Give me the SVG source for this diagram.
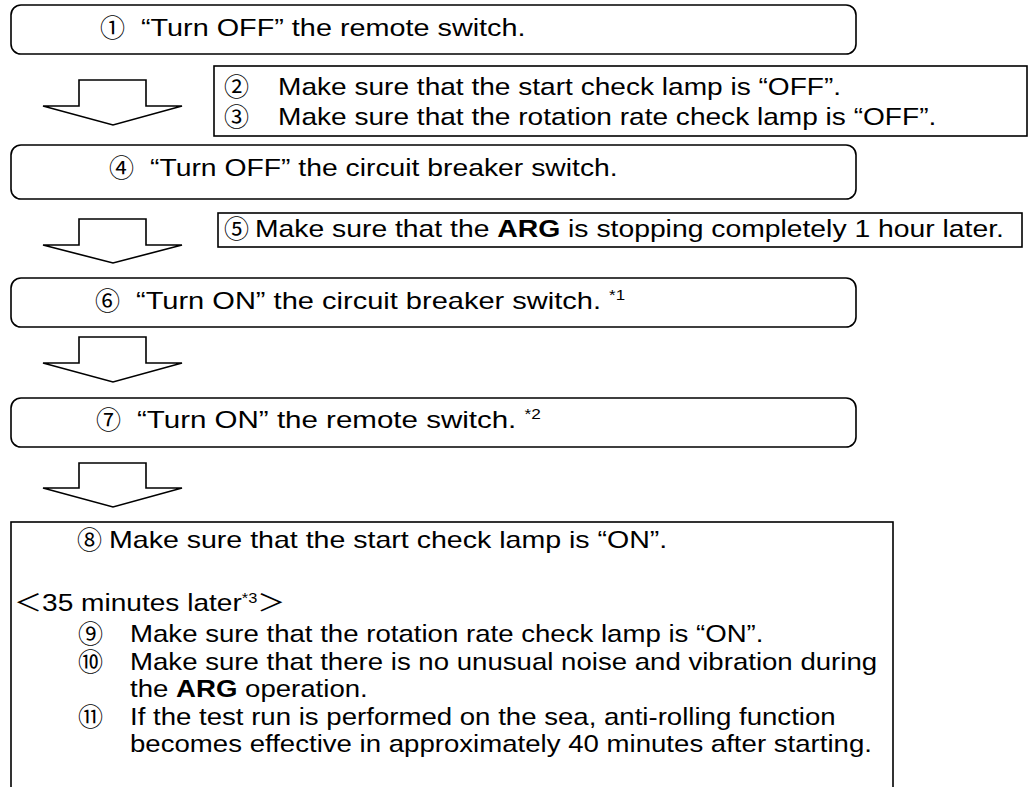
<svg xmlns="http://www.w3.org/2000/svg" width="1035" height="787" viewBox="0 0 1035 787">
<style>
.box{fill:#fff;stroke:#000;stroke-width:1.6}
.arrow{fill:#fff;stroke:#000;stroke-width:1.6;stroke-linejoin:miter}
.t{font-family:"Liberation Sans",Arial,"Noto Sans CJK JP",sans-serif;font-size:24px;fill:#000}
.b{font-weight:bold}
.n{font-family:"Noto Sans CJK JP","DejaVu Sans",sans-serif;font-size:25px;fill:#000}
.sup{font-size:14px}
.wj{font-family:"Noto Sans CJK JP",sans-serif}
</style>
<rect width="1035" height="787" fill="#fff"/>
<g id="connectors">
<polygon class="arrow" points="79,80 146,80 146,106 182,106 113,125 43,106 79,106"/>
<polygon class="arrow" points="79,219 146,219 146,245 182,245 113,263 43,245 79,245"/>
<polygon class="arrow" points="79,337 146,337 146,363 182,363 113,382 43,363 79,363"/>
<polygon class="arrow" points="79,463 146,463 146,488 182,488 113,507 43,488 79,488"/>
</g>
<g id="step1">
<rect class="box" x="11" y="5" width="845" height="49" rx="10"/>
<text class="n" x="100" y="36.5">①</text>
<text class="t" transform="translate(141 35.5) scale(1.2 1)">“Turn OFF” the remote switch.</text>
</g>
<g id="step2-3">
<rect class="box" x="214" y="66" width="813" height="70"/>
<text class="n" x="224" y="96">②</text>
<text class="t" transform="translate(278 95) scale(1.17 1)">Make sure that the start check lamp is “OFF”.</text>
<text class="n" x="224" y="126">③</text>
<text class="t" transform="translate(278 125) scale(1.17 1)">Make sure that the rotation rate check lamp is “OFF”.</text>
</g>
<g id="step4">
<rect class="box" x="11" y="145" width="845" height="54" rx="10"/>
<text class="n" x="109" y="177">④</text>
<text class="t" transform="translate(150 176) scale(1.18 1)">“Turn OFF” the circuit breaker switch.</text>
</g>
<g id="step5">
<rect class="box" x="218" y="213" width="804" height="34"/>
<text class="n" x="224" y="238">⑤</text>
<text class="t" transform="translate(255 237) scale(1.18 1)">Make sure that the <tspan class="b">ARG</tspan> is stopping completely 1 hour later.</text>
</g>
<g id="step6">
<rect class="box" x="11" y="278" width="845" height="49" rx="10"/>
<text class="n" x="95" y="310">⑥</text>
<text class="t" transform="translate(136 309) scale(1.21 1)">“Turn ON” the circuit breaker switch. <tspan class="sup" dy="-9">*1</tspan></text>
</g>
<g id="step7">
<rect class="box" x="11" y="398" width="845" height="49" rx="10"/>
<text class="n" x="96" y="429">⑦</text>
<text class="t" transform="translate(137 428) scale(1.23 1)">“Turn ON” the remote switch. <tspan class="sup" dy="-9">*2</tspan></text>
</g>
<g id="step8-11">
<rect class="box" x="11" y="522" width="882" height="300"/>
<text class="n" x="77" y="549">⑧</text>
<text class="t" transform="translate(109 548) scale(1.19 1)">Make sure that the start check lamp is “ON”.</text>
<text class="t" transform="translate(14 611) scale(1.17 1)"><tspan class="wj">＜</tspan>35 minutes later<tspan class="sup" dy="-8">*3</tspan><tspan class="wj" dy="8">＞</tspan></text>
<text class="n" x="78" y="643">⑨</text>
<text class="t" transform="translate(130 642) scale(1.15 1)">Make sure that the rotation rate check lamp is “ON”.</text>
<text class="n" x="78" y="671">⑩</text>
<text class="t" transform="translate(130 670) scale(1.15 1)">Make sure that there is no unusual noise and vibration during</text>
<text class="t" transform="translate(130 697) scale(1.15 1)">the <tspan class="b">ARG</tspan> operation.</text>
<text class="n" x="78" y="726">⑪</text>
<text class="t" transform="translate(130 725) scale(1.15 1)">If the test run is performed on the sea, anti-rolling function</text>
<text class="t" transform="translate(130 752) scale(1.15 1)">becomes effective in approximately 40 minutes after starting.</text>
</g>
</svg>
